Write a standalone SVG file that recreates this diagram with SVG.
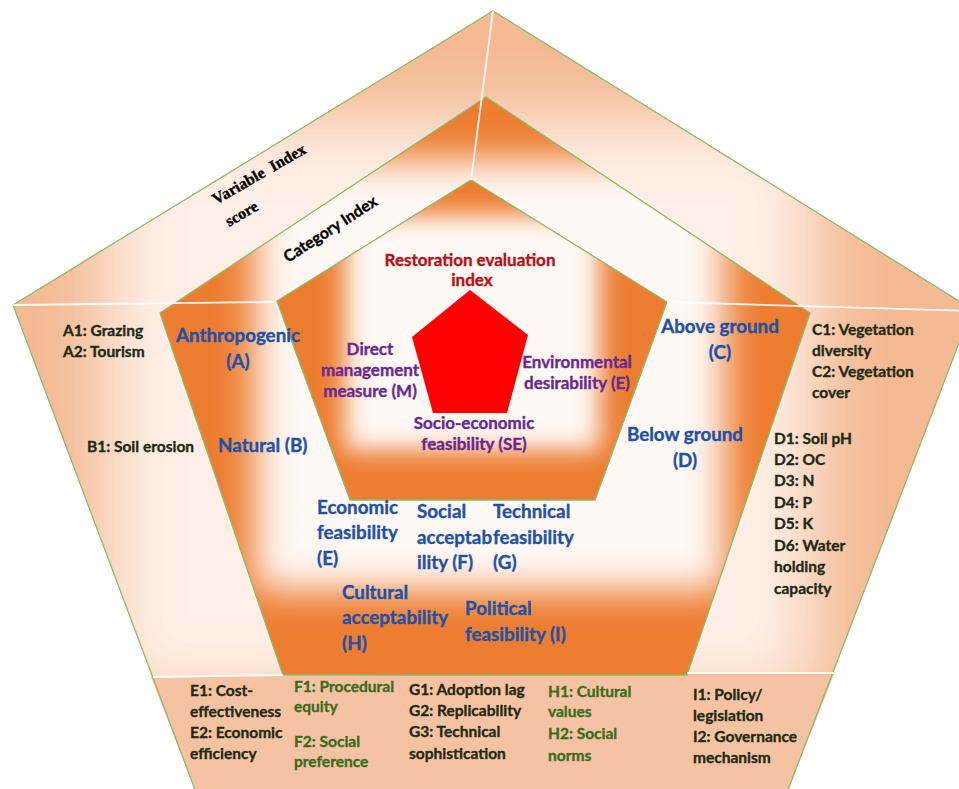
<svg xmlns="http://www.w3.org/2000/svg" width="959" height="789" viewBox="0 0 959 789">
<defs>
<style>
text{font-family:Lato,"Liberation Sans",Arial,sans-serif;font-weight:bold;stroke-width:0.35px;paint-order:stroke}
.cat{font-size:18.8px;fill:#2251A3;stroke:#2251A3}
.var{font-size:15.5px;fill:#1F2A14;stroke:#1F2A14}
.varg{font-size:15.5px;fill:#3B6B22;stroke:#3B6B22}
.ctr{font-size:17px;fill:#67298F;stroke:#67298F}
.rei{font-size:17px;fill:#B80F14;stroke:#B80F14}
.lvl{font-family:"Liberation Serif","Times New Roman",serif;font-size:16px;fill:#000;stroke:#000}
.lvl2{font-size:16px;fill:#000;stroke:#000}
.edge{fill:none;stroke:#8DB868;stroke-width:1.3;stroke-linejoin:miter}
.div{stroke:#FFFFFF;stroke-width:1.8;fill:none;opacity:0.9}
</style>
<filter id="b35" x="-50%" y="-50%" width="200%" height="200%"><feGaussianBlur stdDeviation="35"/></filter>
<filter id="b18" x="-50%" y="-50%" width="200%" height="200%"><feGaussianBlur stdDeviation="18"/></filter>
<filter id="b12" x="-50%" y="-50%" width="200%" height="200%"><feGaussianBlur stdDeviation="12"/></filter>
<clipPath id="cpOuter"><polygon points="13,305 493,11 972,309 786,795 197,795"/></clipPath>
<clipPath id="cpMid"><polygon points="160,313 486,97 810,313 687,675 283,675"/></clipPath>
<clipPath id="cpIn"><polygon points="277,301 471,180 667,302 595,500 350,500"/></clipPath>
</defs>
<rect width="959" height="789" fill="#FFFFFF"/>

<g id="variable-ring">
<polygon points="13,305 493,11 972,309 786,795 197,795" fill="#F4BA94"/>
<g clip-path="url(#cpOuter)">
<rect x="105" y="120" width="710" height="580" fill="#FFF4EE" opacity="0.92" filter="url(#b35)"/>
</g>
<polygon points="151,677 835,672 786,795 197,795" fill="#F6C3A2"/>
<polygon class="edge" points="13,305 493,11 972,309 786,795 197,795"/>
</g>

<g id="category-ring">
<polygon points="160,313 486,97 810,313 687,675 283,675" fill="#ED7D31"/>
<g clip-path="url(#cpMid)">
<rect x="255" y="160" width="470" height="430" fill="#FFF8F4" filter="url(#b18)"/>
</g>
<polygon class="edge" points="160,313 486,97 810,313 687,675 283,675"/>
</g>

<g id="index-core">
<polygon points="277,301 471,180 667,302 595,500 350,500" fill="#ED7D31"/>
<g clip-path="url(#cpIn)">
<rect x="345" y="215" width="255" height="235" fill="#FFF8F4" filter="url(#b12)"/>
</g>
<polygon class="edge" points="277,301 471,180 667,302 595,500 350,500"/>
</g>

<g id="dividers">
<line class="div" x1="493" y1="11" x2="471" y2="180"/>
<line class="div" x1="13" y1="305" x2="274" y2="302"/>
<line class="div" x1="667" y1="302" x2="972" y2="311"/>
<line class="div" x1="153" y1="677" x2="283" y2="675"/>
<line class="div" x1="687" y1="673" x2="834" y2="673"/>
</g>

<g id="restoration-index">
<polygon points="470,290 528,335 507,413 433,413 412,337" fill="#FF0000"/>
<text class="rei" x="470" y="266" text-anchor="middle">Restoration evaluation</text>
<text class="rei" x="472" y="286" text-anchor="middle">index</text>
</g>

<g id="index-M">
<text class="ctr" x="370" y="355" text-anchor="middle">Direct</text>
<text class="ctr" x="370" y="376" text-anchor="middle">management</text>
<text class="ctr" x="370" y="397" text-anchor="middle">measure (M)</text>
</g>
<g id="index-E">
<text class="ctr" x="577" y="368" text-anchor="middle">Environmental</text>
<text class="ctr" x="577" y="389" text-anchor="middle">desirability (E)</text>
</g>
<g id="index-SE">
<text class="ctr" x="474" y="429" text-anchor="middle">Socio-economic</text>
<text class="ctr" x="474" y="450" text-anchor="middle">feasibility (SE)</text>
</g>

<g id="level-labels">
<text class="lvl" x="216" y="205" transform="rotate(-30 216 205)" xml:space="preserve">Variable  Index</text>
<text class="lvl" x="229" y="227" transform="rotate(-30 229 227)">score</text>
<text class="lvl2" x="288" y="263" transform="rotate(-33 288 263)">Category Index</text>
</g>

<g id="cat-A">
<text class="cat" x="238" y="342" text-anchor="middle">Anthropogenic</text>
<text class="cat" x="238" y="368" text-anchor="middle">(A)</text>
</g>
<g id="cat-B"><text class="cat" x="218" y="452">Natural (B)</text></g>
<g id="cat-C">
<text class="cat" x="720" y="333" text-anchor="middle">Above ground</text>
<text class="cat" x="720" y="359" text-anchor="middle">(C)</text>
</g>
<g id="cat-D">
<text class="cat" x="685" y="441" text-anchor="middle">Below ground</text>
<text class="cat" x="685" y="467" text-anchor="middle">(D)</text>
</g>
<g id="cat-E">
<text class="cat" x="317" y="514">Economic</text>
<text class="cat" x="317" y="539">feasibility</text>
<text class="cat" x="317" y="565">(E)</text>
</g>
<g id="cat-F">
<text class="cat" x="417" y="518">Social</text>
<text class="cat" x="417" y="544">acceptab</text>
<text class="cat" x="417" y="569">ility (F)</text>
</g>
<g id="cat-G">
<text class="cat" x="493" y="518">Technical</text>
<text class="cat" x="493" y="544">feasibility</text>
<text class="cat" x="493" y="569">(G)</text>
</g>
<g id="cat-H">
<text class="cat" x="342" y="599">Cultural</text>
<text class="cat" x="342" y="624">acceptability</text>
<text class="cat" x="342" y="650">(H)</text>
</g>
<g id="cat-I">
<text class="cat" x="465" y="615">Political</text>
<text class="cat" x="465" y="641">feasibility (I)</text>
</g>

<g id="var-A">
<text class="var" x="63" y="336">A1: Grazing</text>
<text class="var" x="63" y="357">A2: Tourism</text>
</g>
<g id="var-B"><text class="var" x="87" y="452">B1: Soil erosion</text></g>
<g id="var-C">
<text class="var" x="812" y="335">C1: Vegetation</text>
<text class="var" x="812" y="356">diversity</text>
<text class="var" x="812" y="377">C2: Vegetation</text>
<text class="var" x="812" y="398">cover</text>
</g>
<g id="var-D">
<text class="var" x="774" y="444">D1: Soil pH</text>
<text class="var" x="774" y="465">D2: OC</text>
<text class="var" x="774" y="486">D3: N</text>
<text class="var" x="774" y="508">D4: P</text>
<text class="var" x="774" y="529">D5: K</text>
<text class="var" x="774" y="551">D6: Water</text>
<text class="var" x="774" y="572">holding</text>
<text class="var" x="774" y="594">capacity</text>
</g>
<g id="var-E">
<text class="var" x="190" y="696">E1: Cost-</text>
<text class="var" x="190" y="717">effectiveness</text>
<text class="var" x="190" y="738">E2: Economic</text>
<text class="var" x="190" y="759">efficiency</text>
</g>
<g id="var-F">
<text class="varg" x="294" y="692">F1: Procedural</text>
<text class="varg" x="294" y="712">equity</text>
<text class="varg" x="294" y="747">F2: Social</text>
<text class="varg" x="294" y="767">preference</text>
</g>
<g id="var-G">
<text class="var" x="409" y="695">G1: Adoption lag</text>
<text class="var" x="409" y="716">G2: Replicability</text>
<text class="var" x="409" y="737">G3: Technical</text>
<text class="var" x="409" y="759">sophistication</text>
</g>
<g id="var-H">
<text class="varg" x="548" y="697">H1: Cultural</text>
<text class="varg" x="548" y="717">values</text>
<text class="varg" x="548" y="739">H2: Social</text>
<text class="varg" x="548" y="761">norms</text>
</g>
<g id="var-I">
<text class="var" x="693" y="700">I1: Policy/</text>
<text class="var" x="693" y="721">legislation</text>
<text class="var" x="693" y="742">I2: Governance</text>
<text class="var" x="693" y="763">mechanism</text>
</g>
</svg>
